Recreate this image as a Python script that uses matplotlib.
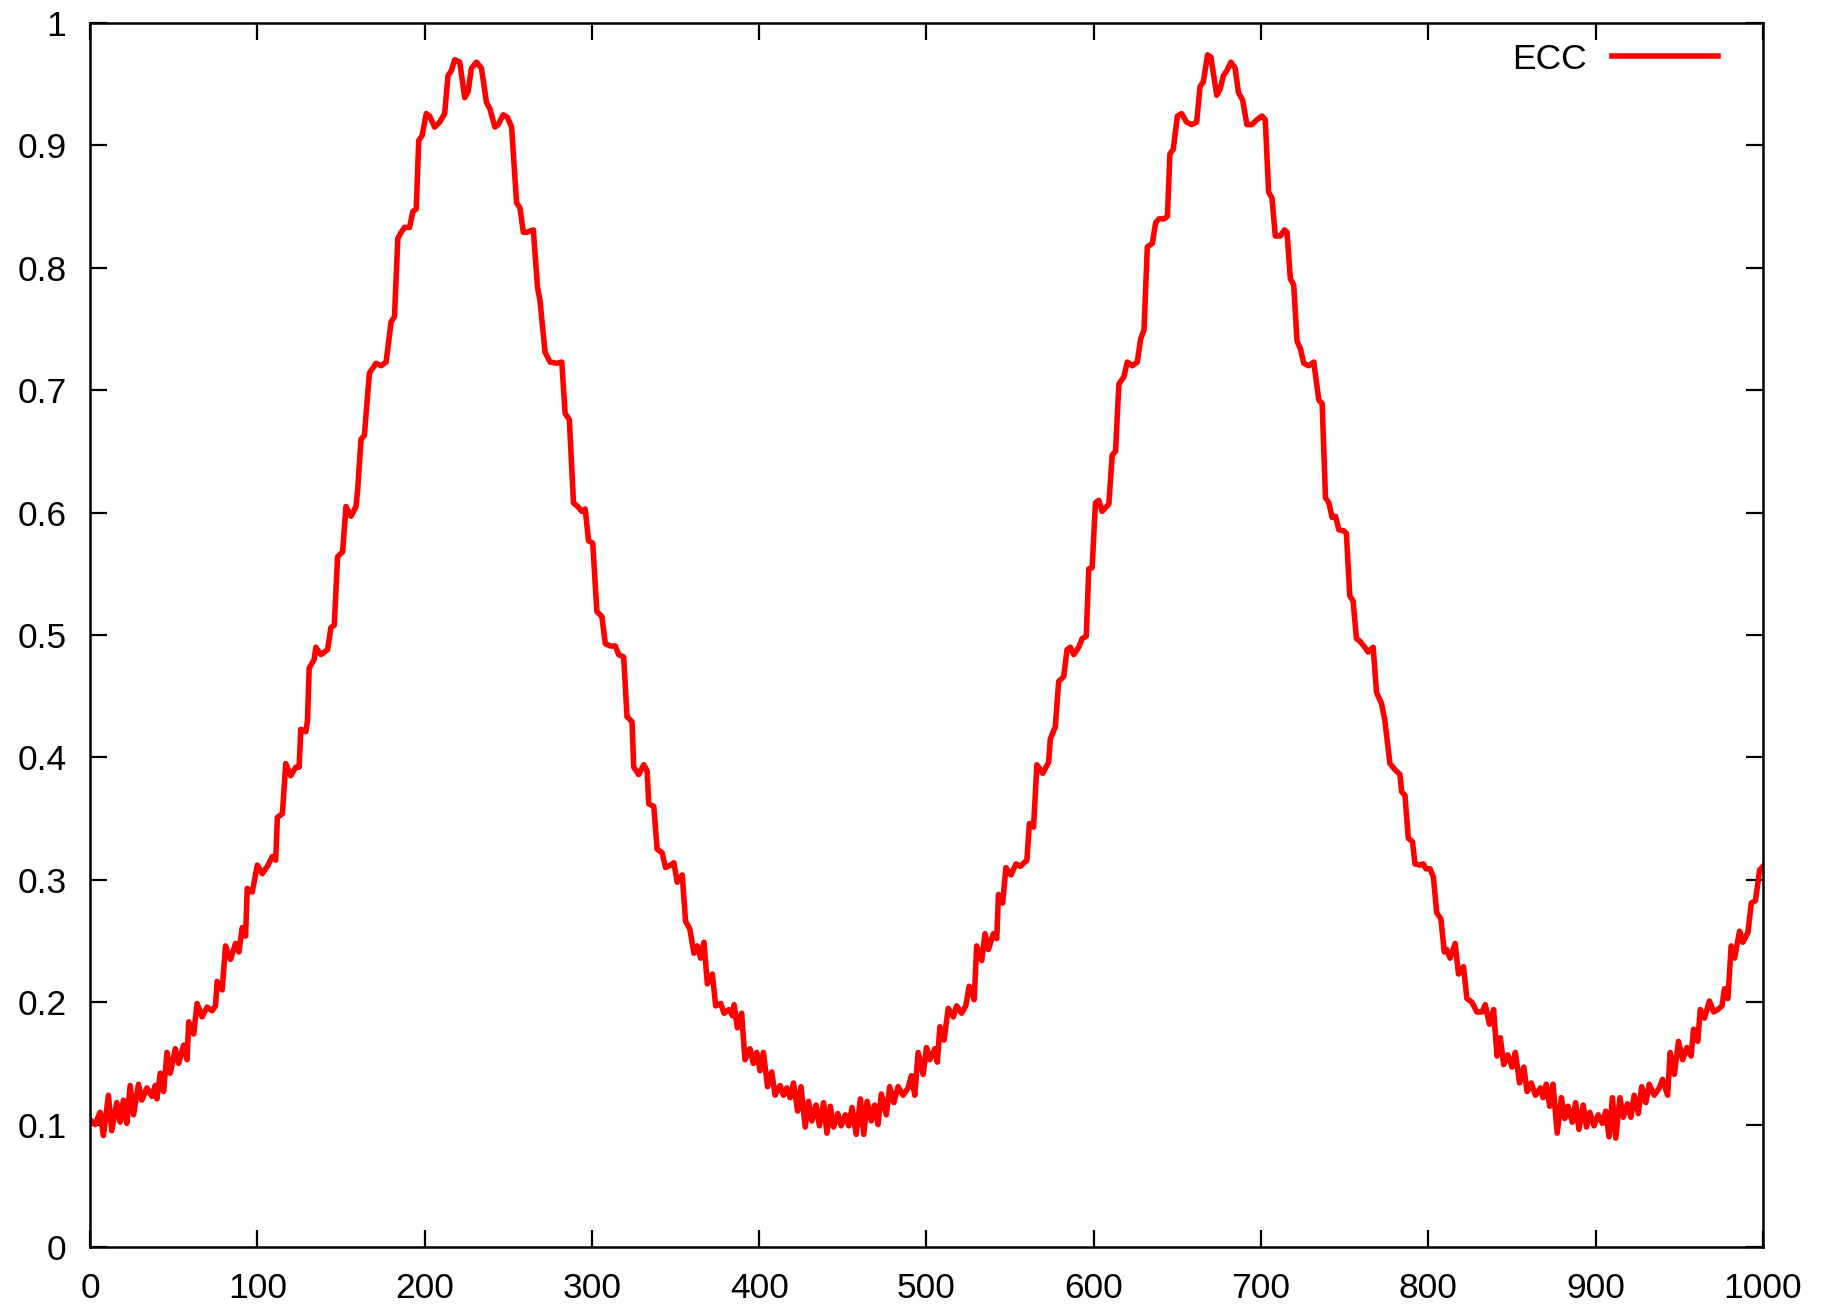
import matplotlib
matplotlib.use("Agg")
import matplotlib.pyplot as plt

plt.rcParams['font.family'] = ['Liberation Sans', 'DejaVu Sans']

# values (x, ECC)
ecc_x = [0, 3, 6, 8, 11, 13, 16, 18, 20, 22, 24, 26, 29, 31, 34, 37, 39, 40, 42, 44,
         46, 48, 51, 53, 56, 58, 59, 62, 64, 67, 70, 73, 75, 76, 79, 81, 84, 87, 89, 91,
         93, 94, 97, 100, 103, 106, 109, 111, 112, 115, 117, 120, 123, 125, 126, 129,
         130, 131, 134, 135, 138, 142, 144, 146, 148, 151, 153, 156, 159, 160, 162, 164,
         167, 171, 174, 177, 180, 182, 184, 186, 188, 191, 193, 195, 196.5, 198.5, 201,
         203, 206, 209, 212, 214, 216, 218, 221, 224, 226, 228, 231, 234, 237, 239, 242,
         244, 247, 249.5, 252, 255, 257, 259, 261, 265, 267.5, 269, 272, 275, 279, 282,
         284, 286.5, 289, 291.5, 294, 296, 298, 300.5, 303, 306, 308, 311, 314, 316, 319,
         321, 322, 324, 325, 328, 331, 333, 334, 337, 339, 342, 344, 347, 349, 351, 354,
         356, 358.5, 361, 363, 365, 367, 369, 372, 374, 377, 379, 382, 384, 385, 387,
         389.5, 391.5, 394.5, 396.5, 398.5, 400.5, 402.5, 405, 407.5, 409.5, 412.5, 414.5,
         416.5, 418.5, 420.5, 423, 425, 427.5, 429.5, 431.5, 434, 436, 438.5, 440.5,
         442.5, 444.5, 447, 449, 451.5, 453.5, 455.5, 458, 460.5, 462.5, 464.5, 467, 469,
         471, 473, 476, 478, 480.5, 483, 486, 489, 491, 493, 495, 498, 500, 502, 505,
         506.5, 508, 510.5, 513, 516, 518, 521, 523.5, 525.5, 528.5, 530, 533, 535, 537,
         540, 542, 543, 545.5, 547.5, 550.5, 553.5, 556, 560, 561.5, 564, 566, 569.5, 573,
         574, 575.5, 577, 579, 582, 584, 586, 588, 591, 593, 595.5, 597, 599, 601, 603,
         605, 609, 611, 613, 615, 618, 620, 623, 626, 628, 630, 632, 635, 637, 639, 642,
         644, 645.5, 647.5, 650, 652.5, 655.5, 658.5, 661.5, 663.5, 665.5, 668, 670,
         673.5, 675.5, 677.5, 679.5, 682, 684.5, 686.5, 689, 691.5, 694.5, 697.5, 700.5,
         702.5, 704.5, 706.5, 708.5, 711.5, 714, 715.5, 717.5, 719.5, 721.5, 723.5, 725.5,
         728.5, 731.5, 734.5, 736.5, 738.5, 740.5, 742.5, 744.5, 746.5, 749.5, 751, 753,
         755, 757, 759, 762, 764, 767, 769, 772, 774, 777, 780, 783, 784, 786, 788, 790.5,
         792, 795, 797, 798.5, 801, 803, 805, 807.5, 809.5, 811, 813, 816, 818, 821, 823,
         826, 829, 832, 834, 836.5, 839, 841, 843, 845, 847.5, 850, 852, 854.5, 857, 859,
         861.5, 864, 867, 868.5, 870.5, 872.5, 874.5, 877, 879.5, 881.5, 883.5, 886, 888,
         890, 892.5, 894.5, 896.5, 899, 901.5, 904, 906, 908, 910, 912, 914.5, 916.5, 919,
         921, 923, 925.5, 927.5, 930, 932, 935, 938, 940, 943, 944.5, 947, 949.5, 952,
         954.5, 957, 958.5, 961, 962.5, 965, 968, 970.5, 973, 975.5, 977, 979, 981, 983,
         986, 988, 991, 993, 995.5, 998, 1000]
ecc_y = [0.104, 0.100, 0.110, 0.091, 0.124, 0.095, 0.118, 0.102, 0.120, 0.101, 0.132,
         0.108, 0.133, 0.120, 0.130, 0.123, 0.132, 0.121, 0.142, 0.127, 0.159, 0.142,
         0.162, 0.150, 0.165, 0.153, 0.184, 0.174, 0.199, 0.188, 0.196, 0.193, 0.197,
         0.217, 0.210, 0.246, 0.235, 0.248, 0.241, 0.261, 0.254, 0.293, 0.290, 0.312,
         0.305, 0.311, 0.319, 0.316, 0.351, 0.354, 0.395, 0.385, 0.392, 0.392, 0.423,
         0.421, 0.430, 0.473, 0.480, 0.490, 0.484, 0.488, 0.506, 0.508, 0.564, 0.568,
         0.605, 0.597, 0.605, 0.619, 0.660, 0.663, 0.714, 0.722, 0.720, 0.723, 0.756,
         0.760, 0.824, 0.829, 0.833, 0.833, 0.846, 0.848, 0.904, 0.908, 0.926, 0.924,
         0.915, 0.919, 0.926, 0.957, 0.961, 0.970, 0.968, 0.939, 0.944, 0.963, 0.968,
         0.963, 0.935, 0.930, 0.915, 0.917, 0.925, 0.923, 0.915, 0.853, 0.849, 0.829,
         0.829, 0.831, 0.784, 0.773, 0.731, 0.723, 0.722, 0.723, 0.681, 0.676, 0.608,
         0.605, 0.601, 0.603, 0.577, 0.575, 0.519, 0.515, 0.493, 0.491, 0.491, 0.484,
         0.482, 0.433, 0.432, 0.429, 0.392, 0.386, 0.394, 0.389, 0.362, 0.360, 0.325,
         0.322, 0.310, 0.312, 0.314, 0.298, 0.304, 0.266, 0.260, 0.240, 0.246, 0.236,
         0.249, 0.215, 0.223, 0.197, 0.199, 0.191, 0.194, 0.189, 0.198, 0.179, 0.191,
         0.153, 0.162, 0.150, 0.159, 0.144, 0.159, 0.131, 0.143, 0.124, 0.132, 0.124,
         0.130, 0.122, 0.134, 0.111, 0.131, 0.098, 0.119, 0.103, 0.116, 0.099, 0.118,
         0.093, 0.115, 0.098, 0.109, 0.099, 0.108, 0.099, 0.114, 0.092, 0.121, 0.092,
         0.119, 0.103, 0.116, 0.100, 0.125, 0.108, 0.131, 0.118, 0.131, 0.124, 0.130,
         0.140, 0.124, 0.159, 0.141, 0.163, 0.153, 0.162, 0.151, 0.180, 0.169, 0.195,
         0.188, 0.197, 0.191, 0.197, 0.213, 0.202, 0.246, 0.234, 0.256, 0.243, 0.256,
         0.252, 0.288, 0.281, 0.310, 0.304, 0.313, 0.311, 0.316, 0.346, 0.343, 0.394,
         0.387, 0.396, 0.415, 0.420, 0.425, 0.462, 0.466, 0.488, 0.490, 0.484, 0.490,
         0.497, 0.499, 0.554, 0.555, 0.608, 0.610, 0.601, 0.607, 0.647, 0.650, 0.705,
         0.711, 0.723, 0.720, 0.723, 0.742, 0.749, 0.817, 0.820, 0.837, 0.840, 0.840,
         0.842, 0.893, 0.897, 0.924, 0.926, 0.919, 0.917, 0.919, 0.948, 0.952, 0.974,
         0.972, 0.941, 0.946, 0.957, 0.961, 0.968, 0.963, 0.943, 0.937, 0.917, 0.917,
         0.921, 0.924, 0.921, 0.862, 0.857, 0.826, 0.826, 0.831, 0.829, 0.791, 0.786,
         0.740, 0.734, 0.722, 0.720, 0.723, 0.692, 0.689, 0.612, 0.608, 0.596, 0.597,
         0.586, 0.585, 0.583, 0.532, 0.528, 0.497, 0.495, 0.490, 0.486, 0.490, 0.453,
         0.444, 0.430, 0.395, 0.390, 0.386, 0.372, 0.369, 0.334, 0.331, 0.313, 0.312,
         0.313, 0.309, 0.309, 0.302, 0.273, 0.268, 0.241, 0.243, 0.236, 0.248, 0.223,
         0.229, 0.203, 0.200, 0.192, 0.192, 0.198, 0.182, 0.194, 0.156, 0.171, 0.149,
         0.157, 0.147, 0.159, 0.134, 0.147, 0.127, 0.134, 0.124, 0.130, 0.122, 0.133,
         0.115, 0.133, 0.093, 0.122, 0.105, 0.115, 0.102, 0.118, 0.096, 0.116, 0.098,
         0.110, 0.099, 0.108, 0.101, 0.111, 0.090, 0.122, 0.089, 0.122, 0.106, 0.117,
         0.106, 0.124, 0.109, 0.131, 0.118, 0.133, 0.124, 0.130, 0.137, 0.124, 0.159,
         0.141, 0.168, 0.153, 0.163, 0.156, 0.178, 0.168, 0.194, 0.187, 0.201, 0.192,
         0.194, 0.197, 0.211, 0.203, 0.246, 0.236, 0.258, 0.249, 0.257, 0.281, 0.283,
         0.308, 0.311]

x_ticks = [0, 100, 200, 300, 400, 500, 600, 700, 800, 900, 1000]
y_ticks = [0, 0.1, 0.2, 0.3, 0.4, 0.5, 0.6, 0.7, 0.8, 0.9, 1]
y_tick_labels = ["0", "0.1", "0.2", "0.3", "0.4", "0.5", "0.6", "0.7", "0.8", "0.9", "1"]

fig = plt.figure(figsize=(18.33, 13.07), dpi=100)
ax = fig.add_axes([0.0491, 0.0459, 0.9127, 0.9365])

ax.plot(ecc_x, ecc_y, color='#ff0000', lw=4, label='ECC', solid_joinstyle='round')

ax.set_xlim(0, 1000)
ax.set_ylim(0, 1)
ax.set_xticks(x_ticks)
ax.set_xticklabels([str(t) for t in x_ticks])
ax.set_yticks(y_ticks)
ax.set_yticklabels(y_tick_labels)
ax.tick_params(direction='in', length=12, width=1.6, labelsize=25.5,
               top=True, right=True, colors='black')
ax.tick_params(axis='x', pad=18)
ax.tick_params(axis='y', pad=17)
for s in ax.spines.values():
    s.set_linewidth(1.8)

ax.legend(loc='center right', bbox_to_anchor=(0.9731, 0.9703), frameon=False,
          markerfirst=False, handlelength=3.0, handletextpad=0.7, borderpad=0,
          borderaxespad=0, fontsize=25.5)

fig.savefig('out.png', dpi=100)
